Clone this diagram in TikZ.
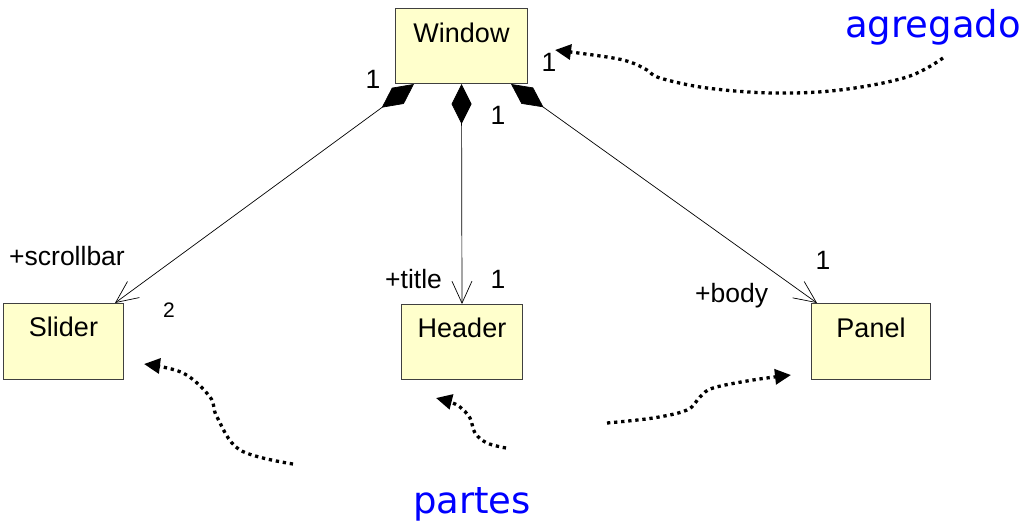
\documentclass[tikz,border=0pt]{standalone}
\usepackage{fontspec}
\setmainfont{Liberation Sans}
\newfontfamily\blfont{DejaVu Sans}
\usetikzlibrary{arrows.meta,calc}
\definecolor{umlyellow}{HTML}{FFFFCC}
\definecolor{boxline}{HTML}{404040}
\begin{document}
\begin{tikzpicture}[x=1pt,y=-1pt,
  cls/.style={draw=boxline, line width=1pt, fill=umlyellow, inner xsep=0pt, inner ysep=0pt,
    anchor=north west, font=\fontsize{27}{30}\selectfont, text height=34pt, text depth=41pt},
  lbl/.style={inner sep=0pt, font=\fontsize{26.5}{30}\selectfont, anchor=base},
  comp/.style={line width=0.7pt, {Diamond[length=40pt,width=20pt]}-{Straight Barb[length=22pt,width=20pt]}},
  note/.style={inner sep=0pt, anchor=base, text=blue, font=\blfont\fontsize{37}{40}\selectfont},
  dotconn/.style={line width=3.3pt, dash pattern=on 3.3pt off 3.8pt, -{Triangle[length=16pt,width=15pt]}}]
\useasboundingbox (0,0) rectangle (1028,530);

% classes
\node[cls, minimum width=132pt] (window) at (395,8) {Window};
\node[cls, minimum width=120pt, text height=33pt, text depth=43pt] (slider) at (3,303) {Slider};
\node[cls, minimum width=121pt, text height=33pt, text depth=42pt] (header) at (401,304) {Header};
\node[cls, minimum width=119pt, text height=34pt, text depth=42pt] (panel) at (811,303) {Panel};

% compositions
\draw[comp] ($(window.south west)+(19,0)$) -- ($(slider.north east)+(-9,0)$);
\draw[comp] (window.south) -- (header.north);
\draw[comp] ($(window.south east)+(-17,0)$) -- ($(panel.north west)+(6,0)$);

% multiplicities and roles
\node[lbl] (mw1) at (373,88) {1};
\node[lbl] (mw2) at (498,124) {1};
\node[lbl] (mw3) at (549,71) {1};
\node[lbl, anchor=base west] (rscroll) at (9,265) {+scrollbar};
\node[lbl, font=\fontsize{21}{24}\selectfont] (ms) at (169,317) {2};
\node[lbl, anchor=base west] (rtitle) at (385,288) {+title};
\node[lbl] (mh) at (498,288) {1};
\node[lbl, anchor=base west] (rbody) at (695,302) {+body};
\node[lbl] (mp) at (823,269) {1};

% annotations
\node[note] (agg) at (933,37) {agregado};
\node[note] (partes) at (472,513) {partes};

\draw[dotconn] plot[smooth, tension=0.6] coordinates {(943,58) (907,77) (840,90) (773,93) (707,88) (660,78) (647,70) (630,62) (607,57) (555,50)};
\draw[dotconn] plot[smooth, tension=0.6] coordinates {(293,464) (240,450) (217,417) (210,397) (183,373) (144,364)};
\draw[dotconn] plot[smooth, tension=0.6] coordinates {(506,448) (487,443) (475,433) (470,418) (460,407) (450,402) (436,398)};
\draw[dotconn] plot[smooth, tension=0.6] coordinates {(607,423) (653,418) (687,410) (700,397) (713,388) (753,380) (791,375)};
\end{tikzpicture}
\end{document}
